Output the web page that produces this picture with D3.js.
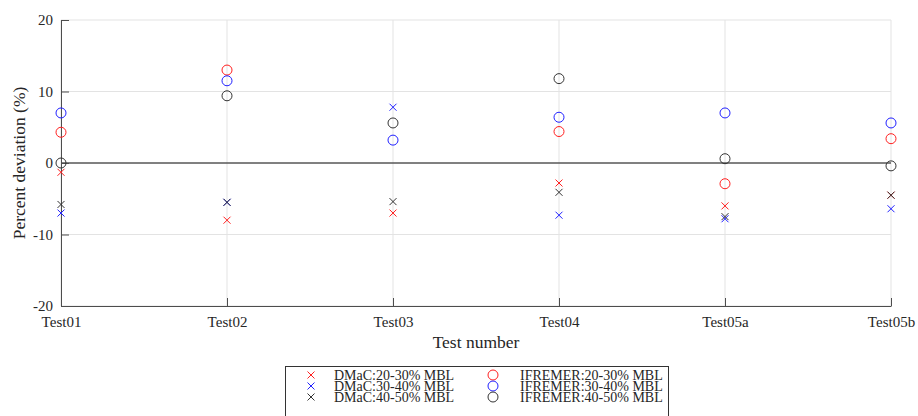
<!DOCTYPE html>
<html>
<head>
<meta charset="utf-8">
<script src="https://cdn.jsdelivr.net/npm/d3@7"></script>
<style>
  html, body { margin: 0; padding: 0; background: #fff; }
  svg { display: block; }
  text { font-family: "Liberation Serif", "Times New Roman", serif; fill: #262626; }
</style>
</head>
<body>
<script>
// Test cases along the x axis
const tests = ["Test01", "Test02", "Test03", "Test04", "Test05a", "Test05b"];
const yTicks = [-20, -10, 0, 10, 20];

// Percent deviation per test case, DMaC results (x markers)
const dmac2030 = [-1.3, -8.0, -7.0, -2.8, -6.0, -4.5];
const dmac3040 = [-7.0, -5.5, 7.8, -7.3, -7.8, -6.4];
const dmac4050 = [-5.8, -5.5, -5.4, -4.1, -7.5, -4.5];

// Percent deviation per test case, IFREMER results (circle markers)
const ifr2030 = [4.3, 13.0, null, 4.4, -2.9, 3.4];
const ifr3040 = [7.0, 11.5, 3.2, 6.4, 7.0, 5.6];
const ifr4050 = [0.0, 9.4, 5.6, 11.8, 0.6, -0.4];

const seriesNames = [
  "DMaC:20-30% MBL", "DMaC:30-40% MBL", "DMaC:40-50% MBL",
  "IFREMER:20-30% MBL", "IFREMER:30-40% MBL", "IFREMER:40-50% MBL"
];

const series = [
  { name: seriesNames[0], values: dmac2030, color: "#ff2020", shape: "x" },
  { name: seriesNames[1], values: dmac3040, color: "#2020ff", shape: "x" },
  { name: seriesNames[2], values: dmac4050, color: "#333333", shape: "x" },
  { name: seriesNames[3], values: ifr2030, color: "#ff2020", shape: "o" },
  { name: seriesNames[4], values: ifr3040, color: "#2020ff", shape: "o" },
  { name: seriesNames[5], values: ifr4050, color: "#333333", shape: "o" }
];

const W = 918, H = 416;
const plot = { left: 61, right: 891, top: 20, bottom: 306 };

const svg = d3.select("body").append("svg").attr("width", W).attr("height", H);

const x = d3.scaleLinear().domain([0, tests.length - 1]).range([plot.left, plot.right]);
const y = d3.scaleLinear().domain([-20, 20]).range([plot.bottom, plot.top]);

// Grid
const grid = svg.append("g").attr("stroke", "#e3e3e3").attr("stroke-width", 1);
tests.forEach((t, i) => {
  grid.append("line").attr("x1", x(i)).attr("x2", x(i)).attr("y1", plot.top).attr("y2", plot.bottom);
});
yTicks.forEach(v => {
  grid.append("line").attr("x1", plot.left).attr("x2", plot.right).attr("y1", y(v)).attr("y2", y(v));
});

// Zero reference line
svg.append("line")
  .attr("x1", plot.left).attr("x2", plot.right)
  .attr("y1", y(0)).attr("y2", y(0))
  .attr("stroke", "#111").attr("stroke-width", 1);

// Axes (ticks point inward)
const xAxis = d3.axisBottom(x)
  .tickValues(d3.range(tests.length))
  .tickFormat(i => tests[i])
  .tickSizeInner(-8).tickSizeOuter(0).tickPadding(10);
const gx = svg.append("g").attr("transform", `translate(0,${plot.bottom})`).call(xAxis);
gx.select(".domain").attr("stroke", "#4d4d4d");
gx.selectAll(".tick line").attr("stroke", "#4d4d4d");
gx.selectAll(".tick text").attr("font-size", 15).attr("fill", "#262626")
  .attr("font-family", "Liberation Serif, serif");

const yAxis = d3.axisLeft(y)
  .tickValues(yTicks)
  .tickFormat(d => String(d))
  .tickSizeInner(-8).tickSizeOuter(0).tickPadding(8);
const gy = svg.append("g").attr("transform", `translate(${plot.left},0)`).call(yAxis);
gy.select(".domain").attr("stroke", "#4d4d4d");
gy.selectAll(".tick line").attr("stroke", "#4d4d4d");
gy.selectAll(".tick text").attr("font-size", 15).attr("fill", "#262626")
  .attr("font-family", "Liberation Serif, serif");

// Axis titles
svg.append("text")
  .attr("x", (plot.left + plot.right) / 2).attr("y", 348)
  .attr("text-anchor", "middle").attr("font-size", 17.5)
  .text("Test number");

svg.append("text")
  .attr("transform", `translate(25,${(plot.top + plot.bottom) / 2}) rotate(-90)`)
  .attr("text-anchor", "middle").attr("font-size", 17.5)
  .text("Percent deviation (%)");

// Marker drawing helpers
function drawMarker(g, shape, cx, cy, color) {
  if (shape === "x") {
    const s = 3.5;
    g.append("path")
      .attr("d", `M${cx - s},${cy - s}L${cx + s},${cy + s}M${cx - s},${cy + s}L${cx + s},${cy - s}`)
      .attr("stroke", color).attr("stroke-width", 1).attr("fill", "none");
  } else {
    g.append("circle").attr("cx", cx).attr("cy", cy).attr("r", 5)
      .attr("stroke", color).attr("stroke-width", 1).attr("fill", "none");
  }
}

// Data points
const marks = svg.append("g");
series.forEach(s => {
  s.values.forEach((v, i) => {
    if (v === null) return;
    drawMarker(marks, s.shape, x(i), y(v), s.color);
  });
});

// Legend
const lg = svg.append("g");
lg.append("rect")
  .attr("x", 285.5).attr("y", 366.5).attr("width", 383).attr("height", 54)
  .attr("fill", "#fff").attr("stroke", "#333").attr("stroke-width", 1);
const rowY = [375, 386, 397];
series.forEach((s, k) => {
  const col = s.shape === "x" ? 0 : 1;
  const row = k % 3;
  const mx = col === 0 ? 311 : 493;
  const tx = col === 0 ? 334 : 520;
  drawMarker(lg, s.shape, mx, rowY[row], s.color);
  lg.append("text").attr("x", tx).attr("y", rowY[row] + 4.8)
    .attr("font-size", 14).text(s.name);
});
</script>
</body>
</html>
